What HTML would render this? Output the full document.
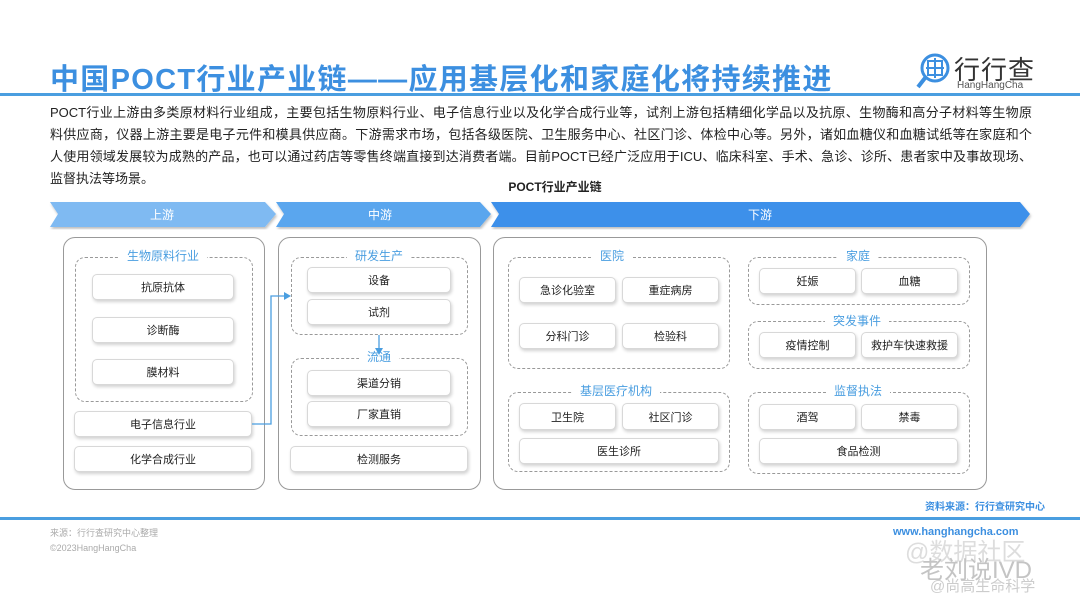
<!DOCTYPE html>
<html><head><meta charset="utf-8"><style>
*{margin:0;padding:0;box-sizing:border-box}
body{width:1080px;height:608px;background:#fff;position:relative;overflow:hidden;font-family:"Liberation Sans","Noto Sans CJK SC",sans-serif;color:#333}
.a{position:absolute}
.box{position:absolute;background:#fff;border:1px solid #d8d8d8;border-radius:5px;box-shadow:1px 2px 3px rgba(0,0,0,0.18);font-size:11px;color:#222;display:flex;align-items:center;justify-content:center}
.outer{position:absolute;border:1.5px solid #999;border-radius:12px}
.dash{position:absolute;border:1.5px dashed #999;border-radius:10px}
.lab{position:absolute;background:#fff;color:#4a9ee0;font-size:12px;padding:0 8px;transform:translateX(-50%);line-height:14px}
.p{position:absolute;left:50px;width:982px;font-size:13px;line-height:22px;white-space:nowrap;color:#222;text-align:justify;text-align-last:justify}
</style></head><body>
<div class="a" style="left:50px;top:56px;font-size:29px;font-weight:bold;color:#3c8fe0;letter-spacing:1.3px;white-space:nowrap">中国POCT行业产业链——应用基层化和家庭化将持续推进</div>
<div class="a" style="left:0;top:93px;width:1080px;height:3px;background:#4a9ee0"></div>
<svg class="a" style="left:915px;top:50px" width="40" height="42" viewBox="0 0 40 42"><circle cx="20" cy="18" r="13" fill="none" stroke="#3c8fe0" stroke-width="3"/><rect x="13" y="11" width="14" height="14" fill="none" stroke="#3c8fe0" stroke-width="2"/><line x1="20" y1="8" x2="20" y2="28" stroke="#3c8fe0" stroke-width="2"/><line x1="11" y1="18" x2="29" y2="18" stroke="#3c8fe0" stroke-width="2"/><line x1="10" y1="28" x2="3" y2="37" stroke="#3c8fe0" stroke-width="4"/></svg>
<div class="a" style="left:954px;top:50px;font-size:26px;color:#333;letter-spacing:1px">行行查</div>
<div class="a" style="left:957px;top:80px;font-size:10px;color:#555">HangHangCha</div>
<div class="p" style="top:102px">POCT行业上游由多类原材料行业组成，主要包括生物原料行业、电子信息行业以及化学合成行业等，试剂上游包括精细化学品以及抗原、生物酶和高分子材料等生物原</div>
<div class="p" style="top:124px">料供应商，仪器上游主要是电子元件和模具供应商。下游需求市场，包括各级医院、卫生服务中心、社区门诊、体检中心等。另外，诸如血糖仪和血糖试纸等在家庭和个</div>
<div class="p" style="top:146px">人使用领域发展较为成熟的产品，也可以通过药店等零售终端直接到达消费者端。目前POCT已经广泛应用于ICU、临床科室、手术、急诊、诊所、患者家中及事故现场、</div>
<div class="p" style="top:168px;text-align-last:left">监督执法等场景。</div>
<div class="a" style="left:0;width:1080px;top:178px;text-align:center;font-size:12px;font-weight:bold;color:#222;padding-left:30px">POCT行业产业链</div>
<svg class="a" style="left:0;top:198px" width="1080" height="34">
<defs><filter id="s"><feDropShadow dx="1" dy="2" stdDeviation="1.2" flood-opacity="0.25"/></filter></defs>
<polygon points="50,4 265,4 276,16 265,29 50,29 58,16" fill="#7fbaf2" filter="url(#s)"/>
<polygon points="276,4 480,4 491,16 480,29 276,29 284,16" fill="#5aa6ee" filter="url(#s)"/>
<polygon points="491,4 1020,4 1030,16 1020,29 491,29 499,16" fill="#3d90ea" filter="url(#s)"/>
<text x="162" y="21" fill="#fff" font-size="12" text-anchor="middle">上游</text>
<text x="380" y="21" fill="#fff" font-size="12" text-anchor="middle">中游</text>
<text x="760" y="21" fill="#fff" font-size="12" text-anchor="middle">下游</text>
</svg>
<div class="outer" style="left:63px;top:237px;width:202px;height:253px"></div>
<div class="dash" style="left:75px;top:257px;width:178px;height:145px"></div>
<div class="lab" style="left:163px;top:249px">生物原料行业</div>
<div class="box" style="left:92px;top:274px;width:142px;height:26px">抗原抗体</div>
<div class="box" style="left:92px;top:317px;width:142px;height:26px">诊断酶</div>
<div class="box" style="left:92px;top:359px;width:142px;height:26px">膜材料</div>
<div class="box" style="left:74px;top:411px;width:178px;height:26px">电子信息行业</div>
<div class="box" style="left:74px;top:446px;width:178px;height:26px">化学合成行业</div>
<div class="outer" style="left:278px;top:237px;width:203px;height:253px"></div>
<div class="dash" style="left:291px;top:257px;width:177px;height:78px"></div>
<div class="lab" style="left:379px;top:249px">研发生产</div>
<div class="box" style="left:307px;top:267px;width:144px;height:26px">设备</div>
<div class="box" style="left:307px;top:299px;width:144px;height:26px">试剂</div>
<div class="dash" style="left:291px;top:358px;width:177px;height:78px"></div>
<div class="lab" style="left:379px;top:350px">流通</div>
<div class="box" style="left:307px;top:370px;width:144px;height:26px">渠道分销</div>
<div class="box" style="left:307px;top:401px;width:144px;height:26px">厂家直销</div>
<div class="box" style="left:290px;top:446px;width:178px;height:26px">检测服务</div>
<svg class="a" style="left:0;top:0" width="1080" height="608" >
<polyline points="252,424 271,424 271,296 285,296" fill="none" stroke="#4a9ee0" stroke-width="1.3"/>
<polygon points="291,296 284,292 284,300" fill="#4a9ee0"/>
<line x1="379" y1="335" x2="379" y2="350" stroke="#4a9ee0" stroke-width="1.3"/>
<polygon points="379,355 375,348 383,348" fill="#4a9ee0"/>
</svg>
<div class="outer" style="left:493px;top:237px;width:494px;height:253px"></div>
<div class="dash" style="left:508px;top:257px;width:222px;height:112px"></div>
<div class="lab" style="left:612px;top:249px">医院</div>
<div class="box" style="left:519px;top:277px;width:97px;height:26px">急诊化验室</div>
<div class="box" style="left:622px;top:277px;width:97px;height:26px">重症病房</div>
<div class="box" style="left:519px;top:323px;width:97px;height:26px">分科门诊</div>
<div class="box" style="left:622px;top:323px;width:97px;height:26px">检验科</div>
<div class="dash" style="left:508px;top:392px;width:222px;height:80px"></div>
<div class="lab" style="left:616px;top:384px">基层医疗机构</div>
<div class="box" style="left:519px;top:403px;width:97px;height:27px">卫生院</div>
<div class="box" style="left:622px;top:403px;width:97px;height:27px">社区门诊</div>
<div class="box" style="left:519px;top:438px;width:200px;height:26px">医生诊所</div>
<div class="dash" style="left:748px;top:257px;width:222px;height:48px"></div>
<div class="lab" style="left:858px;top:249px">家庭</div>
<div class="box" style="left:759px;top:268px;width:97px;height:26px">妊娠</div>
<div class="box" style="left:861px;top:268px;width:97px;height:26px">血糖</div>
<div class="dash" style="left:748px;top:321px;width:222px;height:48px"></div>
<div class="lab" style="left:857px;top:314px">突发事件</div>
<div class="box" style="left:759px;top:332px;width:97px;height:26px">疫情控制</div>
<div class="box" style="left:861px;top:332px;width:97px;height:26px">救护车快速救援</div>
<div class="dash" style="left:748px;top:392px;width:222px;height:82px"></div>
<div class="lab" style="left:858px;top:384px">监督执法</div>
<div class="box" style="left:759px;top:404px;width:97px;height:26px">酒驾</div>
<div class="box" style="left:861px;top:404px;width:97px;height:26px">禁毒</div>
<div class="box" style="left:759px;top:438px;width:199px;height:26px">食品检测</div>
<div class="a" style="left:925px;top:498px;font-size:10px;font-weight:bold;color:#3c8fe0">资料来源：行行查研究中心</div>
<div class="a" style="left:0;top:517px;width:1080px;height:3px;background:#4a9ee0"></div>
<div class="a" style="left:50px;top:526px;font-size:9px;color:#aaa;line-height:15px">来源：行行查研究中心整理<br>©2023HangHangCha</div>
<div class="a" style="left:893px;top:526px;font-size:11px;color:#3c8fe0;font-weight:bold">www.hanghangcha.com</div>
<div class="a" style="left:905px;top:532px;font-size:24px;color:#ddd">@数据社区</div>
<div class="a" style="left:920px;top:550px;font-size:24px;color:#c4c4c4">老刘说IVD</div>
<div class="a" style="left:930px;top:575px;font-size:15px;color:#ccc">@尚高生命科学</div>
</body></html>
